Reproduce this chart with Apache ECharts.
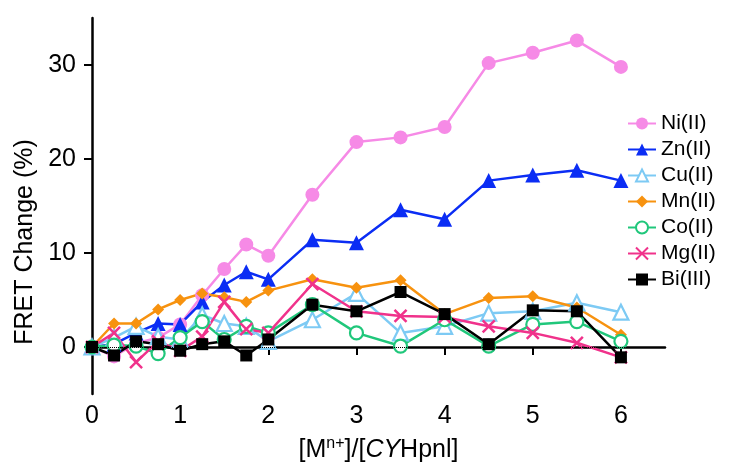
<!DOCTYPE html>
<html>
<head>
<meta charset="utf-8">
<script src="https://cdn.jsdelivr.net/npm/echarts@6/dist/echarts.min.js"></script>
<style>
  html, body { margin: 0; padding: 0; background: #fff; }
  #chart { width: 745px; height: 468px; }
</style>
</head>
<body>
<div id="chart"></div>
<script>
// 横轴：金属离子与探针的比值
var ratios = [0, 0.25, 0.5, 0.75, 1, 1.25, 1.5, 1.75, 2, 2.5, 3, 3.5, 4, 4.5, 5, 5.5, 6];
var xTicks = [0, 1, 2, 3, 4, 5, 6];
var yTicks = [0, 10, 20, 30];

// FRET 变化 (%)
var ni = [0, -1.0, 0.4, 1.0, 2.4, 5.5, 8.3, 10.9, 9.7, 16.2, 21.8, 22.3, 23.4, 30.2, 31.3, 32.6, 29.8];
var zn = [0, 0.3, 1.5, 2.5, 2.4, 4.8, 6.6, 8.0, 7.2, 11.4, 11.1, 14.6, 13.6, 17.7, 18.3, 18.8, 17.7];
var cu = [0, 1.0, 2.2, 1.1, 0.8, 3.4, 2.5, 2.2, 0.6, 2.9, 5.7, 1.5, 2.2, 3.6, 3.8, 4.7, 3.7];
var mn = [0, 2.5, 2.5, 4.0, 5.0, 5.7, 5.3, 4.8, 6.0, 7.2, 6.3, 7.1, 3.5, 5.2, 5.4, 4.2, 1.3];
var co = [0, 0.2, 0.1, -0.7, 1.0, 2.7, 0.8, 2.2, 1.5, 4.5, 1.5, 0.1, 2.9, 0.1, 2.4, 2.7, 0.6];
var mg = [0, 1.5, -1.6, 0.6, -0.4, 1.1, 4.8, 1.9, 1.5, 6.7, 3.8, 3.3, 3.2, 2.2, 1.5, 0.45, -1.1];
var bi = [0, -0.9, 0.6, 0.3, -0.4, 0.3, 0.6, -0.9, 0.8, 4.5, 3.8, 5.85, 3.5, 0.3, 3.9, 3.8, -1.1];

function pairs(vals) {
	return ratios.map(function(x, i) { return [x, vals[i]]; });
}

var font = 'Liberation Sans, Arial, sans-serif';
var crossPath = 'path://M0,0L10,10M10,0L0,10';

function mkSeries(name, vals, color, symbol, size, hollow) {
	return {
		name: name,
		type: 'line',
		data: pairs(vals),
		symbol: symbol,
		symbolSize: size,
		showAllSymbol: true,
		lineStyle: { color: color, width: 2.5 },
		itemStyle: {
			color: hollow ? '#fff' : color,
			borderColor: color,
			borderWidth: hollow ? 2.2 : 0
		},
		emphasis: { disabled: true }
	};
}

var series = [
	mkSeries('Ni(II)', ni, '#f68ae6', 'circle', 14, false),
	mkSeries('Zn(II)', zn, '#0b2df4', 'triangle', 15, false),
	mkSeries('Cu(II)', cu, '#7dcaf4', 'triangle', 15, true),
	mkSeries('Mn(II)', mn, '#f7920f', 'diamond', 12, false),
	mkSeries('Co(II)', co, '#20c77b', 'circle', 13, true),
	mkSeries('Mg(II)', mg, '#f0328b', crossPath, 12, false),
	mkSeries('Bi(III)', bi, '#000000', 'rect', 12, false)
];
// X 形标记只有线条
series[5].itemStyle.borderWidth = 2.5;
// 零线
series[6].markLine = {
	silent: true,
	symbol: 'none',
	label: { show: false },
	lineStyle: { type: 'dotted', color: '#000', width: 1 },
	data: [{ yAxis: 0 }]
};

var myChart = echarts.init(document.getElementById('chart'));
var option = {
	animation: false,
	backgroundColor: '#fff',
	grid: { left: 92, right: 80, top: 18, bottom: 69, containLabel: false },
	legend: {
		orient: 'vertical',
		left: 622,
		top: 108,
		itemWidth: 28,
		itemHeight: 15,
		itemGap: 5,
		textStyle: { fontFamily: font, fontSize: 21, color: '#000' },
		data: ['Ni(II)', 'Zn(II)', 'Cu(II)', 'Mn(II)', 'Co(II)', 'Mg(II)', 'Bi(III)']
	},
	xAxis: {
		type: 'value',
		min: 0,
		max: 6.5,
		name: '[M{sup|n+}]/[{it|CY}Hpnl]',
		nameLocation: 'middle',
		nameGap: 42,
		nameTextStyle: {
			fontFamily: font, fontSize: 25, color: '#000',
			rich: {
				sup: { fontFamily: font, fontSize: 16, color: '#000', padding: [0, 0, 13, 0] },
				it: { fontFamily: font, fontSize: 25, color: '#000', fontStyle: 'italic' }
			}
		},
		axisLine: { lineStyle: { color: '#000', width: 2.5 } },
		axisTick: { show: true, length: 8, lineStyle: { color: '#000', width: 2 }, customValues: xTicks },
		axisLabel: { fontFamily: font, fontSize: 25, color: '#000', margin: 10, customValues: xTicks },
		splitLine: { show: false }
	},
	yAxis: {
		type: 'value',
		min: -5,
		max: 35,
		name: 'FRET Change (%)',
		nameLocation: 'middle',
		nameGap: 48,
		nameTextStyle: { fontFamily: font, fontSize: 25, color: '#000', padding: [0, 72, 0, 0] },
		axisLine: { show: true, onZero: false, lineStyle: { color: '#000', width: 2.5 } },
		axisTick: { show: true, length: 8, lineStyle: { color: '#000', width: 2 }, customValues: yTicks },
		axisLabel: { fontFamily: font, fontSize: 25, color: '#000', margin: 16, customValues: yTicks },
		splitLine: { show: false }
	},
	series: series
};
myChart.setOption(option);
</script>
</body>
</html>
